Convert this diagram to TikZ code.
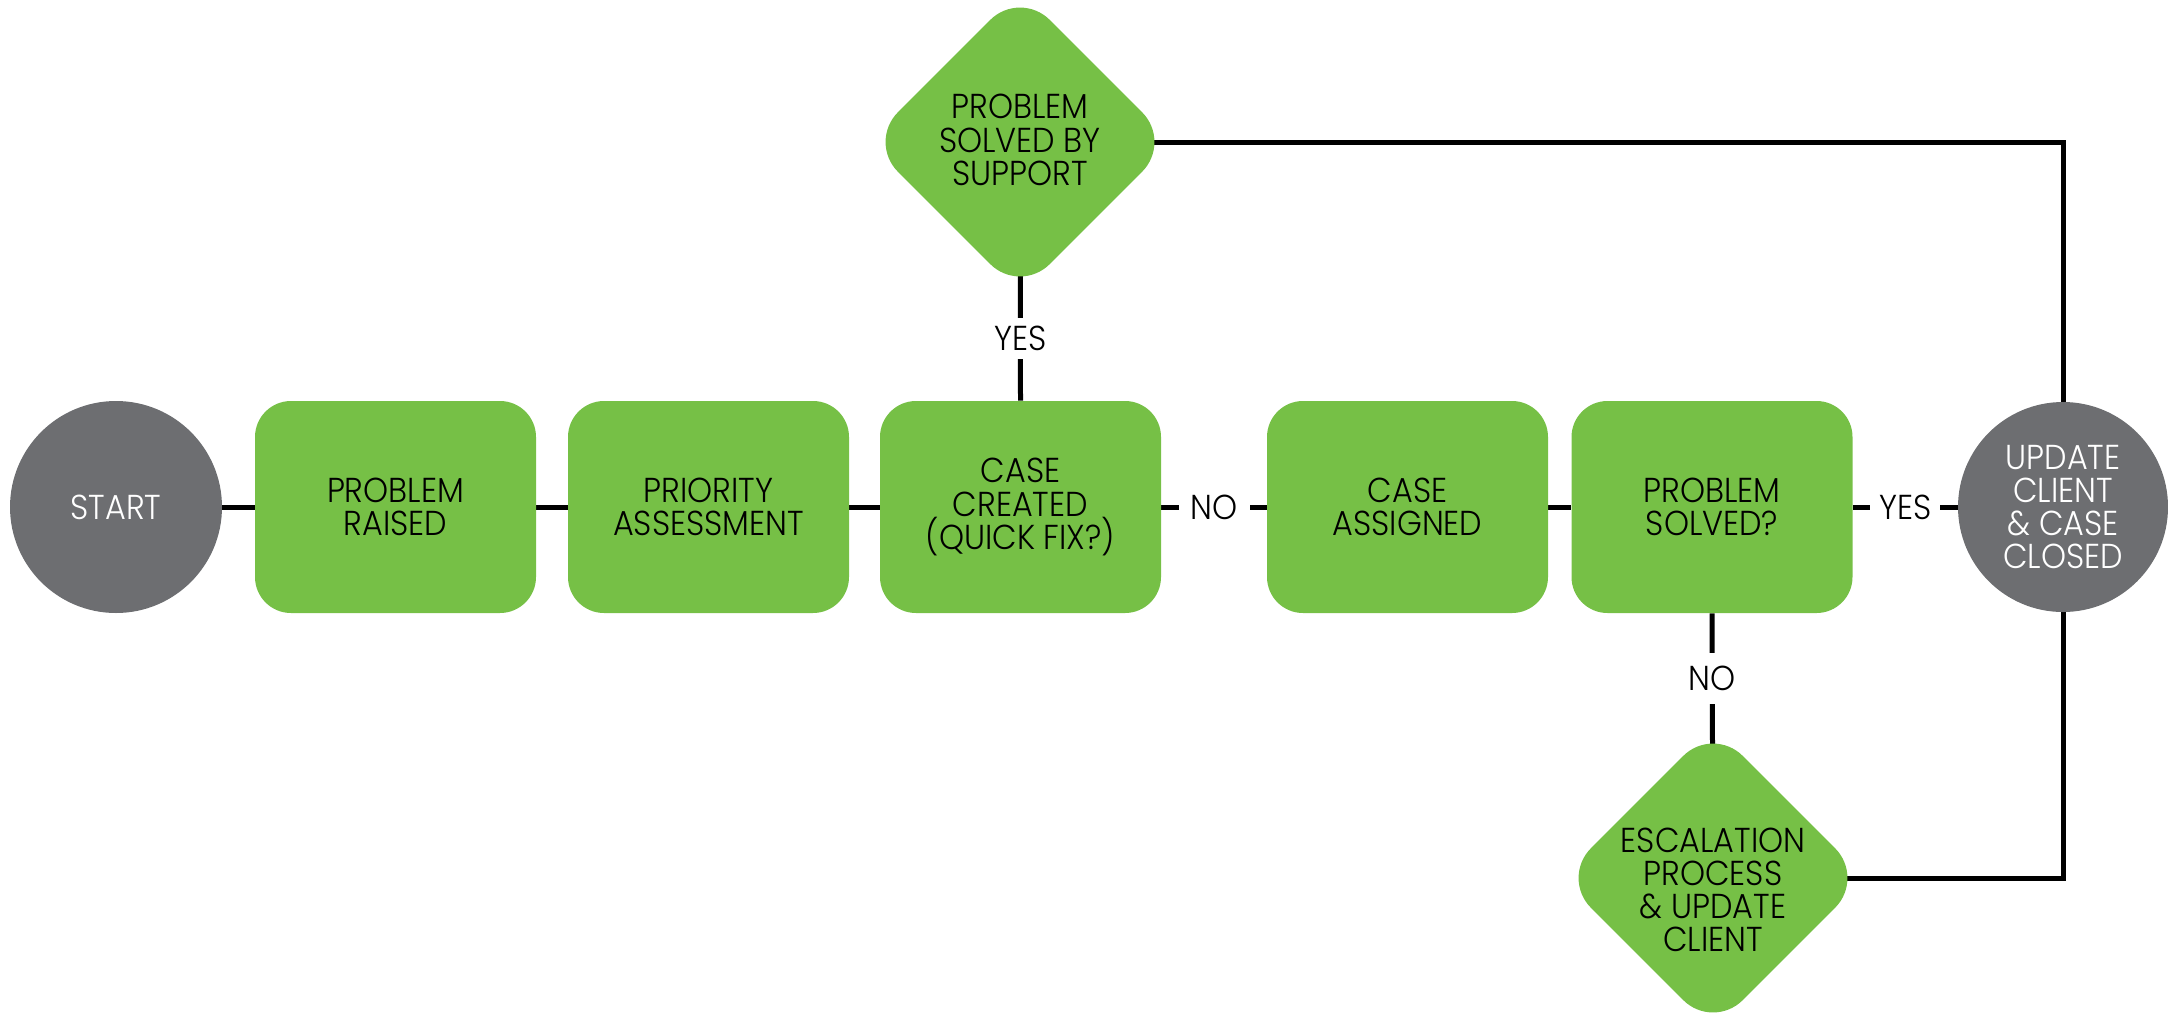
\documentclass[tikz,border=0pt]{standalone}
\usepackage{fontspec}
\IfFontExistsTF{Poppins Light}{\setmainfont{Poppins Light}[FakeStretch=0.92]}{\setmainfont{Poppins}[FakeStretch=0.92]}
\usetikzlibrary{shapes.geometric,backgrounds}
\definecolor{sgreen}{HTML}{76C046}
\definecolor{sgray}{HTML}{6D6E71}
\begin{document}
\begin{tikzpicture}[x=0.5pt,y=-0.5pt,
  txt/.style={font=\fontsize{17.3}{16.6}\selectfont, align=center},
  proc/.style={txt, rectangle, rounded corners=18pt, fill=sgreen, minimum width=140.5pt, minimum height=106pt, inner sep=0pt, text=black},
  term/.style={txt, circle, fill=sgray, minimum size=106pt, inner sep=0pt, text=white},
  decide/.style={diamond, aspect=1, fill=sgreen, rounded corners=21pt, minimum size=152pt, inner sep=0pt},
  conn/.style={line width=2.5pt, black},
  lbl/.style={txt, fill=white, inner sep=0pt},
]
\useasboundingbox (0,0) rectangle (2168,1013);

\node[term] (start) at (116,507) {START};
\node[proc] (pr) at (395.5,507) {PROBLEM\\RAISED};
\node[proc] (pa) at (708.5,507) {PRIORITY\\ASSESSMENT};
\node[proc] (cc) at (1020.5,507) {CASE\\CREATED\\(QUICK FIX?)};
\node[proc] (ca) at (1407.5,507) {CASE\\ASSIGNED};
\node[proc] (ps) at (1712,507) {PROBLEM\\SOLVED?};
\node[term, minimum size=105pt] (upd) at (2063,507) {UPDATE\\CLIENT\\\& CASE\\CLOSED};
\node[decide] (d1) at (1020,142) {};
\node[txt] (d1t) at ([yshift=1pt]d1.center) {PROBLEM\\SOLVED BY\\SUPPORT};
\node[decide] (d2) at (1713,878) {};
\node[txt] (d2t) at ([yshift=-6pt]d2.center) {ESCALATION\\PROCESS\\\& UPDATE\\CLIENT};

\begin{scope}[on background layer]
\draw[conn] (start) -- (pr);
\draw[conn] (pr) -- (pa);
\draw[conn] (pa) -- (cc);
\draw[conn] (cc) -- node[lbl, minimum width=35.5pt]{NO} (ca);
\draw[conn] (ca) -- (ps);
\draw[conn] (ps) -- node[lbl, minimum width=35pt]{YES} (upd);
\draw[conn] (d1.center) -- node[lbl, pos=0.76, minimum height=20.5pt]{YES} (cc.north);
\draw[conn] (ps.south) -- node[lbl, pos=0.245, minimum height=25.5pt]{NO} (d2.center);
\draw[conn] (d1.center) -| (upd.center);
\draw[conn] (d2.center) -| (upd.center);
\end{scope}
\end{tikzpicture}
\end{document}
